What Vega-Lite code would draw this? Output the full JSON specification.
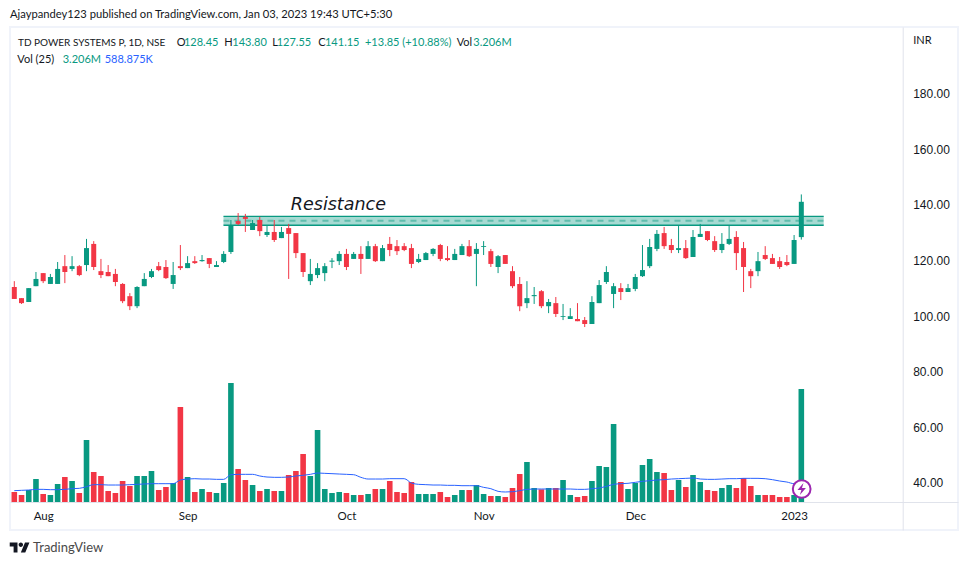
{
  "$schema": "https://vega.github.io/schema/vega-lite/v6.json",
  "autosize": "none",
  "padding": {"left": 10, "top": 27, "right": 10, "bottom": 35},
  "width": 948,
  "height": 503,
  "background": "white",
  "view": {"stroke": "#f0f3fa", "strokeWidth": 2},
  "title": {
    "text": "Ajaypandey123 published on TradingView.com, Jan 03, 2023 19:43 UTC+5:30",
    "anchor": "start",
    "frame": "group",
    "offset": 6.5,
    "font": "Lato",
    "fontSize": 11.2,
    "fontWeight": "normal",
    "color": "#131722"
  },
  "datasets": {
    "bars": [
      {"i":0,"o":110.5,"h":112.6,"l":106.2,"c":106.2,"v":0.284,"ma":0.322},
      {"i":1,"o":106.5,"h":106.5,"l":104.4,"c":104.7,"v":0.199,"ma":0.331},
      {"i":2,"o":105.1,"h":110.1,"l":105.1,"c":110.1,"v":0.340,"ma":0.340},
      {"i":3,"o":110.8,"h":115.9,"l":110.8,"c":113.4,"v":0.652,"ma":0.359},
      {"i":4,"o":115.5,"h":115.5,"l":111.9,"c":112.6,"v":0.227,"ma":0.359},
      {"i":5,"o":111.6,"h":115.2,"l":111.6,"c":114.1,"v":0.199,"ma":0.350},
      {"i":6,"o":111.6,"h":119.5,"l":111.6,"c":117.0,"v":0.511,"ma":0.350},
      {"i":7,"o":118.0,"h":122.0,"l":111.9,"c":115.9,"v":0.709,"ma":0.359},
      {"i":8,"o":117.0,"h":121.6,"l":116.2,"c":118.0,"v":0.596,"ma":0.378},
      {"i":9,"o":118.0,"h":118.4,"l":114.4,"c":114.8,"v":0.255,"ma":0.388},
      {"i":10,"o":118.4,"h":127.8,"l":116.2,"c":124.5,"v":1.759,"ma":0.435},
      {"i":11,"o":126.0,"h":127.0,"l":116.6,"c":117.7,"v":0.851,"ma":0.492},
      {"i":12,"o":116.2,"h":120.6,"l":113.7,"c":114.8,"v":0.738,"ma":0.492},
      {"i":13,"o":115.9,"h":118.4,"l":114.4,"c":114.4,"v":0.312,"ma":0.482},
      {"i":14,"o":115.2,"h":117.0,"l":110.8,"c":112.3,"v":0.255,"ma":0.482},
      {"i":15,"o":111.6,"h":111.9,"l":104.7,"c":105.4,"v":0.596,"ma":0.482},
      {"i":16,"o":107.2,"h":108.3,"l":102.2,"c":103.6,"v":0.454,"ma":0.492},
      {"i":17,"o":103.6,"h":110.8,"l":102.9,"c":110.5,"v":0.738,"ma":0.501},
      {"i":18,"o":110.8,"h":115.5,"l":110.8,"c":113.4,"v":0.738,"ma":0.511},
      {"i":19,"o":114.1,"h":117.0,"l":113.7,"c":116.2,"v":0.879,"ma":0.520},
      {"i":20,"o":118.0,"h":119.5,"l":116.2,"c":116.6,"v":0.340,"ma":0.520},
      {"i":21,"o":117.7,"h":120.2,"l":113.4,"c":113.7,"v":0.426,"ma":0.520},
      {"i":22,"o":111.6,"h":119.5,"l":109.8,"c":114.8,"v":0.539,"ma":0.520},
      {"i":23,"o":118.0,"h":125.6,"l":116.6,"c":117.3,"v":2.695,"ma":0.624},
      {"i":24,"o":117.3,"h":121.6,"l":117.3,"c":119.1,"v":0.709,"ma":0.652},
      {"i":25,"o":119.8,"h":121.6,"l":118.8,"c":119.1,"v":0.284,"ma":0.662},
      {"i":26,"o":119.8,"h":122.0,"l":119.6,"c":120.2,"v":0.369,"ma":0.652},
      {"i":27,"o":120.9,"h":120.9,"l":117.3,"c":118.8,"v":0.284,"ma":0.652},
      {"i":28,"o":117.7,"h":119.8,"l":117.7,"c":118.4,"v":0.255,"ma":0.643},
      {"i":29,"o":119.5,"h":123.4,"l":119.1,"c":122.4,"v":0.539,"ma":0.643},
      {"i":30,"o":123.1,"h":134.6,"l":122.4,"c":132.8,"v":3.376,"ma":0.775},
      {"i":31,"o":134.2,"h":137.1,"l":132.8,"c":133.2,"v":0.936,"ma":0.785},
      {"i":32,"o":135.7,"h":136.8,"l":130.3,"c":135.0,"v":0.624,"ma":0.785},
      {"i":33,"o":131.0,"h":134.6,"l":131.0,"c":133.5,"v":0.482,"ma":0.785},
      {"i":34,"o":134.6,"h":135.7,"l":128.8,"c":130.6,"v":0.312,"ma":0.738},
      {"i":35,"o":129.2,"h":132.8,"l":128.5,"c":130.3,"v":0.369,"ma":0.709},
      {"i":36,"o":130.3,"h":134.6,"l":126.7,"c":127.4,"v":0.312,"ma":0.700},
      {"i":37,"o":128.1,"h":132.1,"l":128.1,"c":130.3,"v":0.312,"ma":0.700},
      {"i":38,"o":131.7,"h":133.2,"l":113.4,"c":129.6,"v":0.766,"ma":0.709},
      {"i":39,"o":129.9,"h":129.9,"l":120.9,"c":122.7,"v":0.879,"ma":0.738},
      {"i":40,"o":122.7,"h":122.7,"l":114.1,"c":115.9,"v":1.362,"ma":0.757},
      {"i":41,"o":112.6,"h":120.6,"l":111.2,"c":115.2,"v":0.738,"ma":0.785},
      {"i":42,"o":114.8,"h":119.1,"l":113.7,"c":117.3,"v":2.043,"ma":0.823},
      {"i":43,"o":115.5,"h":119.1,"l":112.6,"c":118.0,"v":0.369,"ma":0.813},
      {"i":44,"o":119.6,"h":120.9,"l":117.3,"c":120.0,"v":0.255,"ma":0.804},
      {"i":45,"o":119.8,"h":123.4,"l":118.4,"c":122.4,"v":0.284,"ma":0.794},
      {"i":46,"o":122.4,"h":124.2,"l":116.6,"c":117.7,"v":0.255,"ma":0.785},
      {"i":47,"o":120.6,"h":123.1,"l":120.6,"c":122.4,"v":0.199,"ma":0.775},
      {"i":48,"o":122.4,"h":125.2,"l":115.2,"c":120.6,"v":0.199,"ma":0.700},
      {"i":49,"o":120.6,"h":127.0,"l":120.6,"c":125.2,"v":0.227,"ma":0.652},
      {"i":50,"o":125.2,"h":126.0,"l":119.5,"c":119.8,"v":0.369,"ma":0.652},
      {"i":51,"o":119.8,"h":125.6,"l":119.8,"c":124.5,"v":0.369,"ma":0.652},
      {"i":52,"o":126.0,"h":128.5,"l":121.6,"c":123.8,"v":0.596,"ma":0.662},
      {"i":53,"o":125.2,"h":127.4,"l":122.0,"c":123.4,"v":0.284,"ma":0.662},
      {"i":54,"o":125.2,"h":126.3,"l":123.4,"c":123.8,"v":0.255,"ma":0.662},
      {"i":55,"o":124.5,"h":126.0,"l":117.3,"c":118.8,"v":0.567,"ma":0.539},
      {"i":56,"o":119.5,"h":122.4,"l":119.1,"c":120.6,"v":0.227,"ma":0.501},
      {"i":57,"o":120.2,"h":123.1,"l":120.2,"c":122.7,"v":0.227,"ma":0.492},
      {"i":58,"o":122.4,"h":124.5,"l":121.6,"c":124.2,"v":0.227,"ma":0.482},
      {"i":59,"o":125.6,"h":126.0,"l":119.8,"c":120.6,"v":0.284,"ma":0.482},
      {"i":60,"o":120.9,"h":125.2,"l":119.8,"c":120.2,"v":0.142,"ma":0.473},
      {"i":61,"o":120.2,"h":124.2,"l":120.2,"c":122.4,"v":0.199,"ma":0.473},
      {"i":62,"o":122.0,"h":126.0,"l":122.0,"c":125.2,"v":0.340,"ma":0.463},
      {"i":63,"o":125.2,"h":127.4,"l":121.3,"c":121.6,"v":0.340,"ma":0.463},
      {"i":64,"o":122.4,"h":126.3,"l":110.8,"c":124.2,"v":0.482,"ma":0.463},
      {"i":65,"o":124.9,"h":127.0,"l":122.0,"c":125.2,"v":0.227,"ma":0.416},
      {"i":66,"o":123.4,"h":124.2,"l":117.7,"c":118.8,"v":0.170,"ma":0.378},
      {"i":67,"o":117.7,"h":122.0,"l":115.5,"c":121.6,"v":0.170,"ma":0.303},
      {"i":68,"o":122.0,"h":122.0,"l":118.8,"c":118.8,"v":0.142,"ma":0.284},
      {"i":69,"o":116.2,"h":118.0,"l":110.1,"c":110.8,"v":0.397,"ma":0.293},
      {"i":70,"o":111.6,"h":114.1,"l":101.8,"c":103.6,"v":0.794,"ma":0.322},
      {"i":71,"o":104.7,"h":112.6,"l":102.9,"c":106.5,"v":1.135,"ma":0.359},
      {"i":72,"o":107.2,"h":110.5,"l":104.4,"c":107.6,"v":0.397,"ma":0.369},
      {"i":73,"o":109.0,"h":109.4,"l":102.9,"c":103.6,"v":0.359,"ma":0.369},
      {"i":74,"o":103.6,"h":106.2,"l":101.1,"c":105.1,"v":0.397,"ma":0.369},
      {"i":75,"o":104.7,"h":106.9,"l":99.7,"c":100.8,"v":0.397,"ma":0.369},
      {"i":76,"o":99.7,"h":104.4,"l":98.6,"c":100.0,"v":0.624,"ma":0.369},
      {"i":77,"o":99.0,"h":102.9,"l":99.0,"c":100.0,"v":0.199,"ma":0.369},
      {"i":78,"o":99.0,"h":104.7,"l":98.2,"c":98.2,"v":0.142,"ma":0.359},
      {"i":79,"o":98.6,"h":99.7,"l":96.1,"c":97.2,"v":0.170,"ma":0.359},
      {"i":80,"o":97.2,"h":107.2,"l":97.2,"c":105.1,"v":0.596,"ma":0.378},
      {"i":81,"o":104.7,"h":113.0,"l":104.7,"c":111.2,"v":1.021,"ma":0.397},
      {"i":82,"o":112.3,"h":118.0,"l":111.6,"c":115.9,"v":0.993,"ma":0.444},
      {"i":83,"o":108.0,"h":111.9,"l":102.9,"c":110.8,"v":2.213,"ma":0.501},
      {"i":84,"o":110.1,"h":111.9,"l":105.8,"c":108.7,"v":0.567,"ma":0.520},
      {"i":85,"o":108.7,"h":111.6,"l":108.7,"c":110.1,"v":0.369,"ma":0.530},
      {"i":86,"o":109.8,"h":115.2,"l":109.0,"c":114.1,"v":0.539,"ma":0.558},
      {"i":87,"o":114.4,"h":125.6,"l":114.1,"c":116.6,"v":1.050,"ma":0.586},
      {"i":88,"o":118.0,"h":127.8,"l":117.3,"c":124.9,"v":1.220,"ma":0.605},
      {"i":89,"o":124.2,"h":131.0,"l":123.4,"c":129.6,"v":0.851,"ma":0.624},
      {"i":90,"o":129.9,"h":132.1,"l":124.2,"c":125.2,"v":0.823,"ma":0.634},
      {"i":91,"o":125.6,"h":127.8,"l":122.7,"c":123.8,"v":0.340,"ma":0.652},
      {"i":92,"o":123.8,"h":132.8,"l":122.7,"c":124.5,"v":0.624,"ma":0.662},
      {"i":93,"o":124.5,"h":127.4,"l":120.6,"c":120.9,"v":0.426,"ma":0.671},
      {"i":94,"o":121.3,"h":131.0,"l":121.3,"c":128.5,"v":0.766,"ma":0.681},
      {"i":95,"o":128.5,"h":133.2,"l":128.5,"c":129.6,"v":0.567,"ma":0.652},
      {"i":96,"o":130.6,"h":130.6,"l":127.0,"c":127.4,"v":0.340,"ma":0.643},
      {"i":97,"o":127.0,"h":128.8,"l":123.1,"c":123.8,"v":0.312,"ma":0.643},
      {"i":98,"o":123.8,"h":129.9,"l":122.7,"c":126.0,"v":0.397,"ma":0.652},
      {"i":99,"o":126.0,"h":132.8,"l":125.6,"c":127.8,"v":0.482,"ma":0.662},
      {"i":100,"o":128.5,"h":130.6,"l":116.6,"c":122.7,"v":0.397,"ma":0.662},
      {"i":101,"o":124.5,"h":126.7,"l":108.7,"c":117.7,"v":0.681,"ma":0.671},
      {"i":102,"o":116.2,"h":117.0,"l":110.1,"c":114.4,"v":0.454,"ma":0.671},
      {"i":103,"o":116.2,"h":123.1,"l":114.4,"c":119.8,"v":0.199,"ma":0.671},
      {"i":104,"o":122.0,"h":125.2,"l":120.2,"c":120.6,"v":0.199,"ma":0.662},
      {"i":105,"o":120.9,"h":122.4,"l":118.8,"c":118.8,"v":0.199,"ma":0.634},
      {"i":106,"o":119.8,"h":121.3,"l":117.0,"c":117.7,"v":0.142,"ma":0.596},
      {"i":107,"o":119.5,"h":122.0,"l":118.0,"c":118.4,"v":0.142,"ma":0.567},
      {"i":108,"o":118.8,"h":129.2,"l":118.8,"c":127.4,"v":0.199,"ma":0.520},
      {"i":109,"o":128.45,"h":143.8,"l":127.55,"c":141.15,"v":3.206,"ma":0.589}
    ],
    "zone": [{"i": 28.97, "to": 112.1, "top": 135.9, "mid": 134.3, "bottom": 132.7}],
    "notes": [
      {"i": 22.49, "price": 198.3, "kind": "text", "label": "O"},
      {"i": 23.5, "price": 198.3, "kind": "up", "label": "128.45"},
      {"i": 29.09, "price": 198.3, "kind": "text", "label": "H"},
      {"i": 30.19, "price": 198.3, "kind": "up", "label": "143.80"},
      {"i": 35.73, "price": 198.3, "kind": "text", "label": "L"},
      {"i": 36.34, "price": 198.3, "kind": "up", "label": "127.55"},
      {"i": 42.1, "price": 198.3, "kind": "text", "label": "C"},
      {"i": 43.03, "price": 198.3, "kind": "up", "label": "141.15"},
      {"i": 48.57, "price": 198.3, "kind": "up", "label": "+13.85 (+10.88%)"},
      {"i": 61.27, "price": 198.3, "kind": "text", "label": "Vol"},
      {"i": 63.57, "price": 198.3, "kind": "up", "label": "3.206M"},
      {"i": 0.42, "price": 192.2, "kind": "text", "label": "Vol (25)"},
      {"i": 6.7, "price": 192.2, "kind": "up", "label": "3.206M"},
      {"i": 12.52, "price": 192.2, "kind": "avg", "label": "588.875K"},
      {"i": 124.5, "price": 198.9, "kind": "text", "label": "INR"}
    ]
  },
  "encoding": {
    "x": {
      "field": "i",
      "type": "quantitative",
      "scale": {"domain": [-0.596, 130.7], "nice": false, "zero": false, "padding": 0},
      "axis": {
        "title": null,
        "grid": false,
        "ticks": false,
        "offset": -28,
        "values": [4, 24, 46, 65, 86, 108],
        "labelExpr": "datum.value==4?'Aug':datum.value==24?'Sep':datum.value==46?'Oct':datum.value==65?'Nov':datum.value==86?'Dec':'2023'",
        "labelFont": "Lato",
        "labelFontSize": 11.5,
        "labelColor": "#131722",
        "labelPadding": 8,
        "domainColor": "#e0e3eb",
        "domainWidth": 1
      }
    }
  },
  "layer": [
    {
      "encoding": {
        "y": {
          "field": "v",
          "type": "quantitative",
          "axis": null,
          "scale": {"domain": [-0.794, 13.475], "nice": false, "zero": false}
        }
      },
      "layer": [
        {
          "data": {"name": "bars"},
          "mark": {"type": "bar", "size": 5.6, "orient": "vertical"},
          "encoding": {
            "color": {
              "condition": {"test": "datum.c >= datum.o", "value": "#089981"},
              "value": "#f23645"
            }
          }
        },
        {
          "data": {"name": "bars"},
          "mark": {"type": "line", "color": "#2962ff", "strokeWidth": 1, "interpolate": "monotone"},
          "encoding": {"y": {"field": "ma", "type": "quantitative", "axis": null, "scale": {"domain": [-0.794, 13.475], "nice": false, "zero": false}}}
        },
        {
          "data": {"values": [{"i": 109.05, "v": 0.369}]},
          "mark": {"type": "point", "shape": "circle", "filled": true, "fill": "white", "stroke": "#9c27b0", "strokeWidth": 2, "size": 314, "opacity": 1}
        },
        {
          "data": {"values": [{"i": 109.05, "v": 0.369}]},
          "mark": {
            "type": "point",
            "shape": "M0.3 -1 L-0.7 0.15 H-0.05 L-0.3 1 L0.7 -0.15 H0.05 Z",
            "filled": true,
            "fill": "#9c27b0",
            "strokeWidth": 0,
            "size": 144,
            "opacity": 1
          }
        }
      ]
    },
    {
      "encoding": {
        "y": {
          "field": "h",
          "type": "quantitative",
          "scale": {"domain": [23.09, 204.03], "nice": false, "zero": false},
          "axis": {
            "title": null,
            "orient": "right",
            "grid": false,
            "ticks": false,
            "offset": -55.3,
            "values": [40, 60, 80, 100, 120, 140, 160, 180],
            "format": ".2f",
            "labelFont": "Liberation Sans",
            "labelFontSize": 12,
            "labelColor": "#131722",
            "labelPadding": 10,
            "domainColor": "#e0e3eb",
            "domainWidth": 1
          }
        }
      },
      "layer": [
        {
          "data": {"name": "zone"},
          "mark": {"type": "rect", "color": "#089981", "opacity": 0.36},
          "encoding": {
            "x2": {"field": "to"},
            "y": {"field": "top", "type": "quantitative"},
            "y2": {"field": "bottom"}
          }
        },
        {
          "data": {"name": "zone"},
          "mark": {"type": "rule", "color": "#089981", "strokeWidth": 1.4},
          "encoding": {"x2": {"field": "to"}, "y": {"field": "top", "type": "quantitative"}}
        },
        {
          "data": {"name": "zone"},
          "mark": {"type": "rule", "color": "#089981", "strokeWidth": 1.4},
          "encoding": {"x2": {"field": "to"}, "y": {"field": "bottom", "type": "quantitative"}}
        },
        {
          "data": {"name": "zone"},
          "mark": {"type": "rule", "color": "#089981", "strokeWidth": 2, "opacity": 0.45, "strokeDash": [6, 5]},
          "encoding": {"x2": {"field": "to"}, "y": {"field": "mid", "type": "quantitative"}}
        },
        {
          "data": {"name": "bars"},
          "mark": {"type": "rule", "strokeWidth": 1},
          "encoding": {
            "y2": {"field": "l"},
            "color": {
              "condition": {"test": "datum.c >= datum.o", "value": "#089981"},
              "value": "#f23645"
            }
          }
        },
        {
          "data": {"name": "bars"},
          "mark": {"type": "bar", "size": 5, "orient": "vertical"},
          "encoding": {
            "y": {"field": "o", "type": "quantitative"},
            "y2": {"field": "c"},
            "color": {
              "condition": {"test": "datum.c >= datum.o", "value": "#089981"},
              "value": "#f23645"
            }
          }
        },
        {
          "data": {"values": [{"i": 38.3, "price": 138.2, "label": "Resistance"}]},
          "mark": {"type": "text", "align": "left", "baseline": "alphabetic", "font": "DejaVu Sans", "fontStyle": "italic", "fontSize": 17.5, "color": "#131722"},
          "encoding": {"y": {"field": "price", "type": "quantitative"}, "text": {"field": "label"}}
        },
        {
          "data": {"name": "notes"},
          "mark": {"type": "text", "align": "left", "baseline": "middle", "font": "Lato", "fontSize": 11},
          "encoding": {
            "y": {"field": "price", "type": "quantitative"},
            "text": {"field": "label"},
            "color": {
              "field": "kind",
              "type": "nominal",
              "legend": null,
              "scale": {"domain": ["text", "up", "avg"], "range": ["#131722", "#089981", "#2962ff"]}
            }
          }
        },
        {
          "data": {"values": [{"i": 0.51, "price": 198.3, "label": "TD POWER SYSTEMS P, 1D, NSE"}]},
          "mark": {"type": "text", "align": "left", "baseline": "middle", "font": "Lato", "fontSize": 10, "color": "#131722"},
          "encoding": {"y": {"field": "price", "type": "quantitative"}, "text": {"field": "label"}}
        },
        {
          "data": {"values": [{"i": 2.59, "price": 16.6, "label": "TradingView"}]},
          "mark": {"type": "text", "align": "left", "baseline": "middle", "font": "Lato", "fontSize": 13, "color": "#4a4a4a"},
          "encoding": {"y": {"field": "price", "type": "quantitative"}, "text": {"field": "label"}}
        },
        {
          "data": {"values": [{"i": 0.75, "price": 16.8}]},
          "mark": {
            "type": "point",
            "shape": "M-0.222 0.5 H-0.611 V-0.111 H-1 V-0.5 H-0.222 Z M0.556 0.5 H0.111 L0.528 -0.5 H0.972 Z M-0.111 -0.278 A0.222 0.222 0 1 0 0.333 -0.278 A0.222 0.222 0 1 0 -0.111 -0.278 Z",
            "filled": true,
            "fill": "#131722",
            "strokeWidth": 0,
            "size": 400,
            "opacity": 1
          },
          "encoding": {"y": {"field": "price", "type": "quantitative"}}
        }
      ]
    }
  ],
  "resolve": {"scale": {"y": "independent", "color": "independent"}}
}
